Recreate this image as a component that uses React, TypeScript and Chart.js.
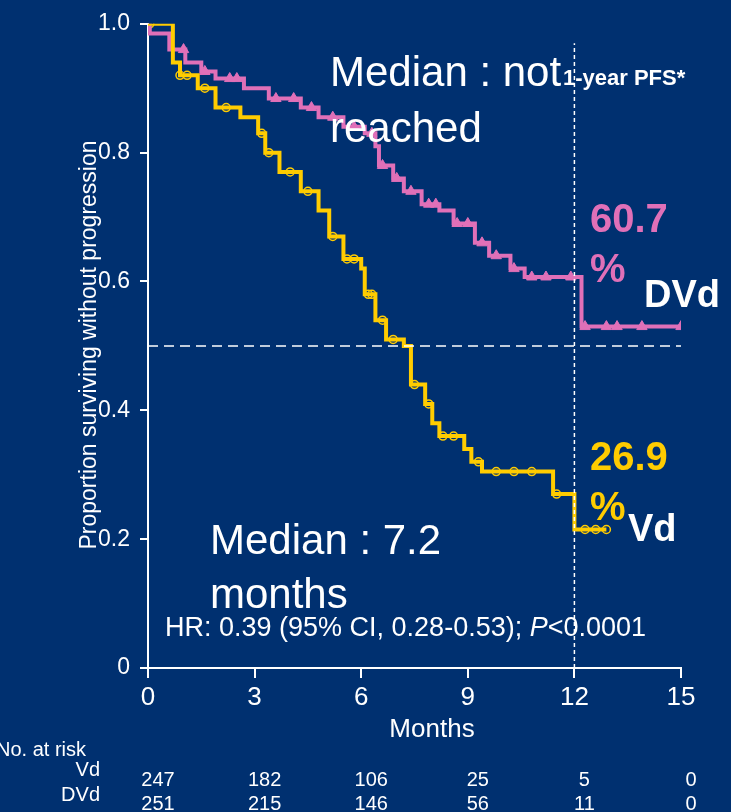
import React, { useEffect, useRef } from "react";
import { Chart, registerables } from "chart.js";
Chart.register(...registerables);

const vdSteps: [number, number][] = [[0,1.0],[0.7,0.94],[0.9,0.92],[1.4,0.9],[1.9,0.87],[2.6,0.855],[3.1,0.83],[3.3,0.8],[3.7,0.77],[4.3,0.74],[4.8,0.71],[5.1,0.67],[5.5,0.635],[6.0,0.62],[6.1,0.58],[6.4,0.54],[6.7,0.51],[7.2,0.5],[7.4,0.44],[7.8,0.41],[8.0,0.38],[8.2,0.36],[8.9,0.34],[9.1,0.32],[9.4,0.305],[11.4,0.27],[12.0,0.215]];
const vdEnd = 12.9;
const dvdSteps: [number, number][] = [[0,1.0],[0.05,0.985],[0.6,0.96],[1.05,0.94],[1.5,0.926],[1.9,0.915],[2.7,0.9],[3.4,0.884],[4.3,0.87],[4.8,0.855],[5.5,0.84],[6.1,0.83],[6.4,0.81],[6.5,0.78],[6.9,0.76],[7.2,0.74],[7.7,0.72],[8.2,0.71],[8.6,0.69],[9.2,0.66],[9.6,0.64],[10.2,0.62],[10.6,0.607],[12.2,0.53]];
const dvdEnd = 15.0;
const vdCensor = [0.05,0.9,1.1,1.6,2.2,3.2,3.4,4.0,4.5,5.2,5.6,5.8,6.2,6.3,6.6,6.9,7.5,7.9,8.3,8.6,9.3,9.8,10.3,10.8,11.5,12.3,12.6,12.9];
const dvdCensor = [1.0,1.6,2.3,2.5,3.6,4.1,4.6,5.2,5.8,6.3,6.6,7.0,7.4,7.9,8.1,8.7,9.0,9.4,9.8,10.3,10.8,11.2,11.9,12.3,12.9,13.2,13.9,15.0];
const xTicks = [0, 3, 6, 9, 12, 15];
const riskVd = [247, 182, 106, 25, 5, 0];
const riskDVd = [251, 215, 146, 56, 11, 0];

const toPts = (s: [number, number][], end: number) => [...s.map(([x, y]) => ({ x, y })), { x: end, y: s[s.length - 1][1] }];
const valAt = (s: [number, number][], t: number) => { let v = s[0][1]; for (const [x, y] of s) if (x <= t) v = y; return v; };

const YELLOW = "#FFCC00";
const PINK = "#E070B8";
const BG = "#003070";
const F = "'Liberation Sans', Arial, sans-serif";

export default function App() {
  const ref = useRef<HTMLCanvasElement>(null);
  useEffect(() => {
    document.body.style.margin = "0";
    document.body.style.background = BG;
    const textPlugin = {
      id: "texts",
      afterDraw(c: any) {
        const ctx = c.ctx;
        const xs = c.scales.x;
        ctx.save();
        const t = (s: string, x: number, y: number, font: string, color = "#fff", align: CanvasTextAlign = "left") => {
          ctx.font = font; ctx.fillStyle = color; ctx.textAlign = align; ctx.textBaseline = "alphabetic"; ctx.fillText(s, x, y);
        };
        t("Median : not", 330, 86, `42px ${F}`);
        t("reached", 330, 142, `42px ${F}`);
        t("1-year PFS*", 563, 85, `bold 22px ${F}`);
        t("60.7", 590, 232, `bold 40px ${F}`, PINK);
        t("%", 590, 282, `bold 40px ${F}`, PINK);
        t("DVd", 644, 307, `bold 38px ${F}`);
        t("26.9", 590, 470, `bold 40px ${F}`, YELLOW);
        t("%", 590, 520, `bold 40px ${F}`, YELLOW);
        t("Vd", 628, 541, `bold 38px ${F}`);
        t("Median : 7.2", 210, 554, `42px ${F}`);
        t("months", 210, 608, `42px ${F}`);
        const a = "HR: 0.39 (95% CI, 0.28-0.53); ";
        t(a, 165, 636, `27px ${F}`);
        ctx.font = `27px ${F}`;
        const w = ctx.measureText(a).width;
        t("P", 165 + w, 636, `italic 27px ${F}`);
        const w2 = ctx.measureText("P").width;
        t("<0.0001", 165 + w + w2, 636, `27px ${F}`);
        t("Months", 432, 737, `26px ${F}`, "#fff", "center");
        t("No. at risk", -4, 756, `20px ${F}`);
        t("Vd", 100, 776, `20px ${F}`, "#fff", "right");
        t("DVd", 100, 801, `20px ${F}`, "#fff", "right");
        xTicks.forEach((m, i) => {
          const px = xs.getPixelForValue(m) + 10;
          t(String(riskVd[i]), px, 786, `20px ${F}`, "#fff", "center");
          t(String(riskDVd[i]), px, 810, `20px ${F}`, "#fff", "center");
        });
        ctx.translate(96, 345);
        ctx.rotate(-Math.PI / 2);
        t("Proportion surviving without progression", 0, 0, `23px ${F}`, "#fff", "center");
        ctx.restore();
      },
    };
    const chart = new Chart(ref.current!, {
      type: "scatter",
      data: {
        datasets: [
          { data: [{ x: 0, y: 0.5 }, { x: 15.3, y: 0.5 }], showLine: true, borderColor: "#fff", borderWidth: 1.5, borderDash: [10, 6], pointRadius: 0 },
          { data: [{ x: 12, y: 0 }, { x: 12, y: 0.97 }], showLine: true, borderColor: "#fff", borderWidth: 1.5, borderDash: [4, 3], pointRadius: 0 },
          { data: toPts(vdSteps, vdEnd), showLine: true, stepped: "before", borderColor: YELLOW, borderWidth: 4, pointRadius: 0 },
          { data: toPts(dvdSteps, dvdEnd), showLine: true, stepped: "before", borderColor: PINK, borderWidth: 4, pointRadius: 0 },
          { data: vdCensor.map((x) => ({ x, y: valAt(vdSteps, x) })), pointStyle: "circle", pointRadius: 4, borderColor: YELLOW, backgroundColor: "rgba(0,0,0,0)", borderWidth: 1.5 },
          { data: dvdCensor.map((x) => ({ x, y: valAt(dvdSteps, x) })), pointStyle: "triangle", pointRadius: 6, borderColor: PINK, backgroundColor: PINK, borderWidth: 1 },
        ],
      },
      options: {
        animation: false,
        responsive: false,
        layout: { padding: { top: 20, right: 50, left: 0, bottom: 0 } },
        plugins: { legend: { display: false }, tooltip: { enabled: false } },
        scales: {
          x: {
            type: "linear", min: 0, max: 15,
            afterBuildTicks: (s: any) => { s.ticks = xTicks.map((v) => ({ value: v })); },
            afterFit: (s: any) => { s.height = 144; },
            ticks: { color: "#fff", font: { size: 26, family: F }, padding: 4, callback: (v: any) => String(v) },
            grid: { drawOnChartArea: false, color: "#fff", tickLength: 10, lineWidth: 2 },
            border: { color: "#fff", width: 2 },
          },
          y: {
            min: 0, max: 1,
            afterFit: (s: any) => { s.width = 148; },
            ticks: { stepSize: 0.2, color: "#fff", font: { size: 23, family: F }, padding: 10, callback: (v: any) => (v === 0 ? "0" : Number(v).toFixed(1)) },
            grid: { drawOnChartArea: false, color: "#fff", tickLength: 8, lineWidth: 2 },
            border: { color: "#fff", width: 2 },
          },
        },
      },
      plugins: [textPlugin],
    } as any);
    return () => chart.destroy();
  }, []);
  return <div style={{ width: 731, height: 812, background: BG }}><canvas ref={ref} width={731} height={812} style={{ display: "block" }} /></div>;
}
